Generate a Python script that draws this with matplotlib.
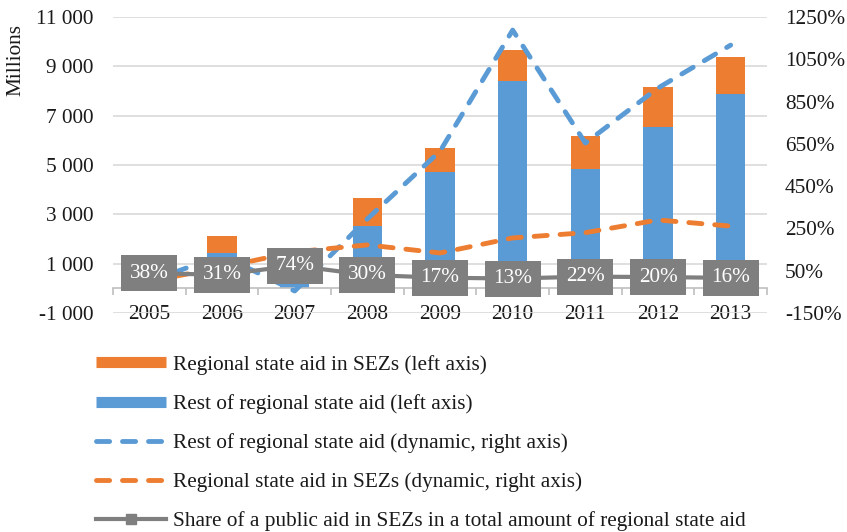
import numpy as np
import matplotlib
matplotlib.use("Agg")
import matplotlib.pyplot as plt
from matplotlib.lines import Line2D
from matplotlib.ticker import FuncFormatter

# values (millions, left axis)
years = ["2005", "2006", "2007", "2008", "2009", "2010", "2011", "2012", "2013"]
rest_aid = [650, 1440, 350, 2530, 4720, 8400, 4840, 6540, 7880]
sez_aid = [400, 680, 990, 1130, 970, 1260, 1340, 1620, 1500]

# dynamics vs 2005 (%, right axis)
rest_dyn = [0, 123, -46, 295, 615, 1188, 654, 914, 1117]
sez_dyn = [0, 66, 139, 172, 134, 205, 230, 290, 261]

# share of SEZ aid in total regional aid (%)
share = [38, 31, 74, 30, 17, 13, 22, 20, 16]

BLUE = "#5b9bd5"
ORANGE = "#ed7d31"
GREY = "#7f7f7f"
TXT = "#1a1a1a"
DASH = (2.7, 2.65)

plt.rcParams["font.family"] = ["Liberation Serif", "DejaVu Serif"]
plt.rcParams["font.size"] = 15.3

fig = plt.figure(figsize=(8.47, 5.32), dpi=100)
ax = fig.add_axes([113 / 847, 1 - 313 / 532, 654 / 847, 296 / 532])
x = np.arange(len(years))

# stacked bars
ax.bar(x, rest_aid, width=0.4, color=BLUE, zorder=2)
ax.bar(x, sez_aid, width=0.4, bottom=rest_aid, color=ORANGE, zorder=2)

ax.set_xlim(-0.5, len(years) - 0.5)
ax.set_ylim(-1000, 11000)
ax.set_yticks(np.arange(-1000, 11001, 2000))
ax.yaxis.set_major_formatter(FuncFormatter(lambda v, p: f"{int(v):,}".replace(",", " ")))
ax.grid(axis="y", color="#d9d9d9", linewidth=1.2, zorder=0)
ax.set_axisbelow(True)

for s in ["top", "right", "left"]:
    ax.spines[s].set_visible(False)
ax.spines["bottom"].set_position(("data", 0))
ax.spines["bottom"].set_color("#bfbfbf")
ax.spines["bottom"].set_linewidth(1.2)

ax.set_xticks(x)
ax.set_xticklabels(years)
ax.set_xticks(np.arange(-0.5, len(years)), minor=True)
ax.tick_params(axis="x", which="major", length=0, pad=12, labelcolor=TXT)
ax.tick_params(axis="x", which="minor", length=5, color="#bfbfbf", width=1.2)
ax.tick_params(axis="y", length=0, pad=14, labelcolor=TXT)

# right axis: dynamics and share
ax2 = ax.twinx()
ax2.set_ylim(-150, 1250)
ax2.set_yticks(np.arange(-150, 1251, 200))
ax2.yaxis.set_major_formatter(FuncFormatter(lambda v, p: f"{int(v)}%"))
ax2.tick_params(axis="y", length=0, pad=13, labelcolor=TXT)
for s in ax2.spines.values():
    s.set_visible(False)

ax2.plot(x, rest_dyn, color=BLUE, lw=3.5, dashes=DASH, dash_capstyle="round", zorder=3)
ax2.plot(x, sez_dyn, color=ORANGE, lw=3.5, dashes=DASH, dash_capstyle="round", zorder=3)
ax2.plot(x, share, color=GREY, lw=3, marker="s", markersize=7, zorder=4)
for xi, v in zip(x, share):
    ax2.text(xi, v, f"{v}%", ha="center", va="center", color="white", zorder=5,
             bbox=dict(boxstyle="square,pad=0.4", facecolor=GREY, edgecolor="none"))

fig.text(16 / 847, 1 - 60 / 532, "Millions", rotation=90, ha="center",
         va="center", color=TXT)

handles = [
    Line2D([], [], color=ORANGE, lw=8, solid_capstyle="butt"),
    Line2D([], [], color=BLUE, lw=8, solid_capstyle="butt"),
    Line2D([], [], color=BLUE, lw=3.5, dashes=DASH, dash_capstyle="round"),
    Line2D([], [], color=ORANGE, lw=3.5, dashes=DASH, dash_capstyle="round"),
    Line2D([], [], color=GREY, lw=3, marker="s", markersize=7),
]
labels = [
    "Regional state aid in SEZs (left axis)",
    "Rest of regional state aid (left axis)",
    "Rest of regional state aid (dynamic, right axis)",
    "Regional state aid in SEZs (dynamic, right axis)",
    "Share of a public aid in SEZs in a total amount of regional state aid",
]
leg = fig.legend(handles, labels, loc="upper left", bbox_to_anchor=(96 / 847, 1 - 355 / 532),
                 frameon=False, handlelength=3.3, handletextpad=0.33,
                 labelspacing=0.9, borderpad=0, borderaxespad=0)
for t in leg.get_texts():
    t.set_color(TXT)

fig.savefig("out.png", dpi=100)
